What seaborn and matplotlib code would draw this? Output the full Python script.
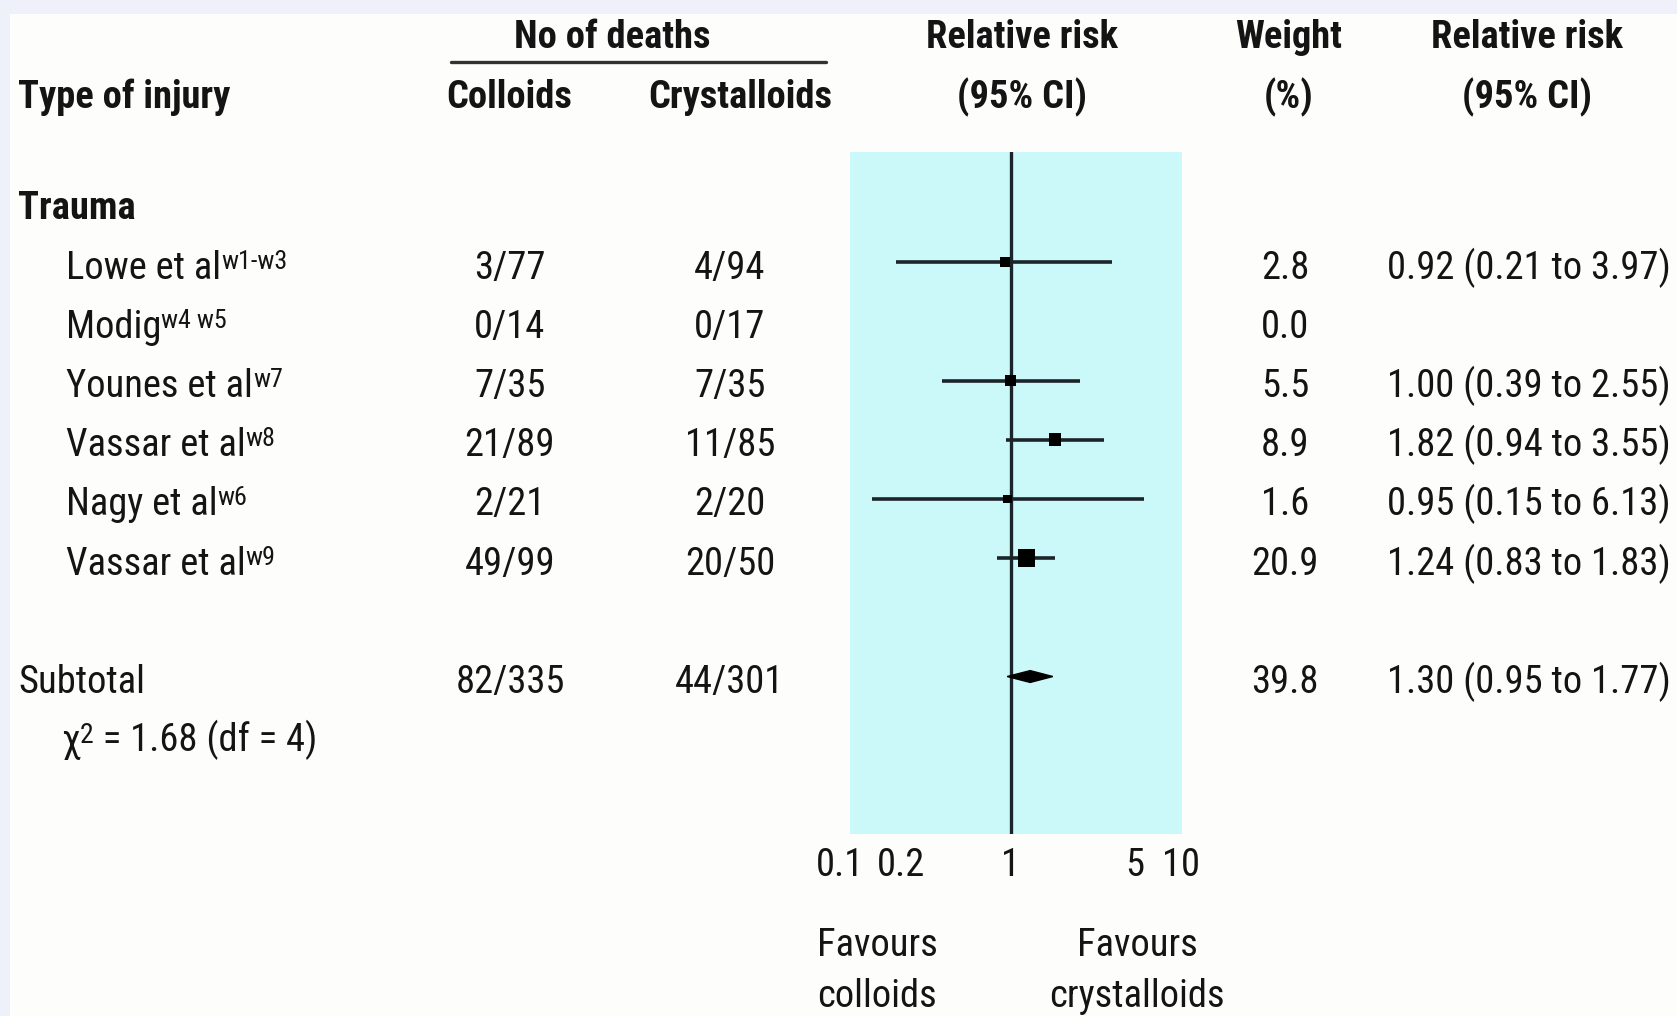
import numpy as np
import pandas as pd
import matplotlib
matplotlib.use("Agg")
import matplotlib.pyplot as plt
import seaborn as sns
from matplotlib import font_manager as fm
from matplotlib.transforms import blended_transform_factory, ScaledTranslation
from matplotlib.patches import Polygon, Rectangle
from matplotlib.ticker import NullLocator, FixedLocator, FixedFormatter

# ---------------- data ----------------
group_label = "Trauma"
studies = ["Lowe et al", "Modig", "Younes et al", "Vassar et al", "Nagy et al", "Vassar et al"]
study_refs = ["w1-w3", "w4 w5", "w7", "w8", "w6", "w9"]
colloid_deaths = ["3/77", "0/14", "7/35", "21/89", "2/21", "49/99"]
crystalloid_deaths = ["4/94", "0/17", "7/35", "11/85", "2/20", "20/50"]
weights = [2.8, 0.0, 5.5, 8.9, 1.6, 20.9]
rr = [0.92, np.nan, 1.00, 1.82, 0.95, 1.24]
ci_low = [0.21, np.nan, 0.39, 0.94, 0.15, 0.83]
ci_high = [3.97, np.nan, 2.55, 3.55, 6.13, 1.83]

subtotal_label = "Subtotal"
subtotal_colloids = "82/335"
subtotal_crystalloids = "44/301"
subtotal_weight = 39.8
subtotal_rr = 1.30
subtotal_low = 0.95
subtotal_high = 1.77
heterogeneity_text = " = 1.68 (df = 4)"

tick_values = [0.1, 0.2, 1, 5, 10]
tick_labels = ["0.1", "0.2", "1", "5", "10"]

# ---------------- fonts ----------------
sns.set_theme(style="white")
available = {f.name for f in fm.fontManager.ttflist}
family, FS = "Liberation Sans", 26
for cand, size in [("Liberation Sans Narrow", 29), ("Roboto Condensed", 27.7),
                   ("DejaVu Sans Condensed", 25), ("Liberation Sans", 25)]:
    if cand in available:
        family, FS = cand, size
        break
plt.rcParams["font.family"] = [family, "DejaVu Sans"]
FS_SUP = FS * 0.68

W, H = 1677, 1016
TXT = "#141414"
LINE = "#1b2429"
PANEL = "#cbf9f9"

fig = plt.figure(figsize=(W / 100, H / 100), dpi=100)
fig.patch.set_facecolor("#eef0fa")
fig.add_artist(Rectangle((10 / W, 0), 1 - 10 / W, 1 - 14 / H, transform=fig.transFigure,
                         facecolor="#fdfdfc", edgecolor="none", zorder=-10))

# ---------------- forest axes ----------------
ax_left, ax_right, ax_top, ax_bottom = 842, 1182, 152, 834
ax = fig.add_axes([ax_left / W, 1 - ax_bottom / H, (ax_right - ax_left) / W, (ax_bottom - ax_top) / H])
ax.set_xscale("log")
ylim = (10.66, -0.86)

rows = np.arange(1, len(studies) + 1)
subtotal_row = len(studies) + 2
het_row = subtotal_row + 1

df = pd.DataFrame({"row": rows, "rr": rr, "lo": ci_low, "hi": ci_high, "weight": weights})
dplot = df.dropna()

ax.axvspan(0.112, 10.3, color=PANEL, zorder=0, lw=0)
ax.axvline(1, color=LINE, lw=2.4, zorder=2)
ax.hlines(dplot["row"], dplot["lo"], dplot["hi"], color=LINE, lw=2.6, zorder=3)
sns.scatterplot(data=dplot, x="rr", y="row", size="weight", sizes=(30, 155), size_norm=(0, 21),
                marker="s", color="black", linewidth=0, legend=False, zorder=4, ax=ax)
ax.set_xscale("log")
ax.set_xlim(0.1, 10.3)
ax.set_ylim(*ylim)
ax.patch.set_alpha(0)
for s in ax.spines.values():
    s.set_visible(False)

dh = 0.1
diamond = Polygon([(subtotal_low, subtotal_row), (subtotal_rr, subtotal_row - dh),
                   (subtotal_high, subtotal_row), (subtotal_rr, subtotal_row + dh)],
                  closed=True, facecolor="black", edgecolor="black", lw=1, zorder=4)
ax.add_patch(diamond)

ax.xaxis.set_major_locator(FixedLocator(tick_values))
ax.xaxis.set_major_formatter(FixedFormatter(tick_labels))
ax.xaxis.set_minor_locator(NullLocator())
ax.set_yticks([])
ax.tick_params(axis="x", length=0, pad=9, labelsize=FS, labelcolor=TXT)
ax.set_xlabel("")
ax.set_ylabel("")
# small nudges so the crowded labels do not touch (as in the printed figure)
nudges = {"0.1": -2, "0.2": 8, "5": 6, "10": 1}
for lab in ax.get_xticklabels():
    dx = nudges.get(lab.get_text(), 0)
    lab.set_transform(lab.get_transform() + ScaledTranslation(dx / 100, 0, fig.dpi_scale_trans))

# ---------------- text ----------------
def fx(px):
    return px / W

def fy(py):
    return 1 - py / H

row_tr = blended_transform_factory(fig.transFigure, ax.transData)
BL = 0.28  # baseline offset (rows) below row centre

def row_text(x_px, row, s, ha="left", bold=False, size=None):
    return fig.text(fx(x_px), row + BL, s, transform=row_tr, ha=ha, va="baseline",
                    fontsize=size or FS, color=TXT, fontweight="bold" if bold else "normal")

def fig_text(x_px, base_px, s, ha="center", bold=False, size=None):
    return fig.text(fx(x_px), fy(base_px), s, ha=ha, va="baseline", fontsize=size or FS,
                    color=TXT, fontweight="bold" if bold else "normal")

def sup(parent, s):
    return ax.annotate(s, xy=(1.0, 1.0), xycoords=parent, ha="left", va="top",
                       fontsize=FS_SUP, color=TXT, annotation_clip=False)

# headers
fig_text(612, 48, "No of deaths", bold=True)
fig.add_artist(plt.Line2D([fx(451), fx(826)], [fy(62), fy(62)], color="#333333", lw=2.4,
                          transform=fig.transFigure))
fig_text(18, 108, "Type of injury", ha="left", bold=True)
fig_text(509, 108, "Colloids", bold=True)
fig_text(740, 108, "Crystalloids", bold=True)
fig_text(1022, 48, "Relative risk", bold=True)
fig_text(1022, 108, "(95% CI)", bold=True)
fig_text(1289, 48, "Weight", bold=True)
fig_text(1289, 108, "(%)", bold=True)
fig_text(1527, 48, "Relative risk", bold=True)
fig_text(1527, 108, "(95% CI)", bold=True)

# group
row_text(18, 0, group_label, bold=True)

for i, r in enumerate(rows):
    t = row_text(66, r, studies[i])
    sup(t, study_refs[i])
    row_text(510, r, colloid_deaths[i], ha="center")
    row_text(730, r, crystalloid_deaths[i], ha="center")
    row_text(1285, r, f"{weights[i]:.1f}", ha="center")
    if not np.isnan(rr[i]):
        row_text(1387, r, f"{rr[i]:.2f} ({ci_low[i]:.2f} to {ci_high[i]:.2f})")

row_text(18, subtotal_row, subtotal_label)
row_text(510, subtotal_row, subtotal_colloids, ha="center")
row_text(730, subtotal_row, subtotal_crystalloids, ha="center")
row_text(1285, subtotal_row, f"{subtotal_weight:.1f}", ha="center")
row_text(1387, subtotal_row, f"{subtotal_rr:.2f} ({subtotal_low:.2f} to {subtotal_high:.2f})")

chi = row_text(61, het_row, "χ")
two = ax.annotate("2", xy=(1.0, 1.04), xycoords=chi, ha="left", va="top", fontsize=FS * 0.72,
                  color=TXT, annotation_clip=False)
ax.annotate(heterogeneity_text, xy=(1.0, 0.0), xycoords=(two, chi), ha="left", va="bottom",
            fontsize=FS, color=TXT, annotation_clip=False)

# favours labels
fig_text(877, 956, "Favours")
fig_text(877, 1007, "colloids")
fig_text(1137, 956, "Favours")
fig_text(1137, 1007, "crystalloids")

fig.savefig("out.png", dpi=100, facecolor=fig.get_facecolor())
